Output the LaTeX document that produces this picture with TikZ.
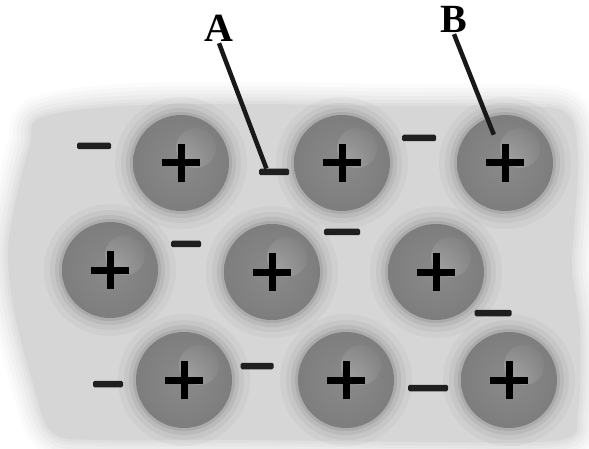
\documentclass[tikz,border=0pt]{standalone}
\usepackage{fontspec}
\setmainfont{Liberation Serif}
\usetikzlibrary{calc}

% body of a positive ion: mid grey core, darker rim
\pgfdeclareradialshading{ionball}{\pgfpointorigin}{%
  color(0bp)=(black!46); color(26bp)=(black!51); color(37bp)=(black!60);
  color(45bp)=(black!71); color(50bp)=(black!62)}

\begin{document}
\begin{tikzpicture}[x=1pt,y=-1pt,
  blobpath/.style={insert path={plot[smooth cycle, tension=0.55] coordinates {
      (40,118) (120,106) (250,104) (400,106) (520,106) (568,114) (578,160)
      (574,230) (572,270) (580,330) (578,410) (560,440) (420,442) (250,440)
      (100,440) (52,432) (32,380) (14,310) (8,250) (18,190) (30,145)}}},
  ion/.style={circle, minimum size=96pt, inner sep=0pt, shade, shading=ionball,
    path picture={
      \shade[inner color=black!36, outer color=black!51]
        ([shift={(15pt,15pt)}]path picture bounding box.center) circle (20pt);
      \draw[line width=7pt, black]
        ([xshift=-19pt]path picture bounding box.center) --
        ([xshift=19pt]path picture bounding box.center)
        ([yshift=-19pt]path picture bounding box.center) --
        ([yshift=19pt]path picture bounding box.center);
    }},
  elec/.style={rectangle, fill=black!88, minimum height=6.5pt, inner sep=0pt,
    rounded corners=1.5pt},
  lab/.style={font=\fontsize{40}{40}\selectfont\bfseries, inner sep=0pt, outer sep=2pt},
  pointer/.style={line width=4.5pt, black!90}
]
\useasboundingbox (0,0) rectangle (589,449);

% metal background with a soft edge
\foreach \w/\o in {44/0.08, 36/0.1, 28/0.12, 20/0.16, 12/0.2, 6/0.25}
  \draw[black!20, line width=\w pt, opacity=\o, line join=round, blobpath];
\fill[black!16, blobpath];

% lattice sites
\foreach \n/\x/\y in {c1/181/163, c2/342/163, c3/505/163,
                      c4/110/270, c5/272/272, c6/436/272,
                      c7/184/380, c8/346/380, c9/509/380}
  \coordinate (p\n) at (\x,\y);

% faint shadow round each ion
\foreach \n in {c1,c2,c3,c4,c5,c6,c7,c8,c9}
  \foreach \r/\o in {66/0.03, 60/0.04, 55/0.06, 51/0.08}
    \fill[black, opacity=\o] (p\n) circle (\r);

% positive ions
\foreach \n in {c1,c2,c3,c4,c5,c6,c7,c8,c9}
  \node[ion] (\n) at (p\n) {};

% free electrons
\node[elec, minimum width=34pt] (e1) at (94,146) {};
\node[elec, minimum width=30pt] (e2) at (274,172) {};
\node[elec, minimum width=34pt] (e3) at (419,138) {};
\node[elec, minimum width=30pt] (e4) at (186,244) {};
\node[elec, minimum width=36pt] (e5) at (342,232) {};
\node[elec, minimum width=37pt] (e6) at (493,313) {};
\node[elec, minimum width=30pt] (e7) at (108,384) {};
\node[elec, minimum width=33pt] (e8) at (257,366) {};
\node[elec, minimum width=40pt] (e9) at (428,388) {};

% labels and pointers
\node[lab] (labA) at (219,28) {A};
\node[lab] (labB) at (454,19) {B};
\draw[pointer] (labA.south) -- ($(e2.north west)!0.25!(e2.north east)$);
\draw[pointer] (labB.south) -- ($(labB.south)!0.78!(c3.center)$);
\end{tikzpicture}
\end{document}
